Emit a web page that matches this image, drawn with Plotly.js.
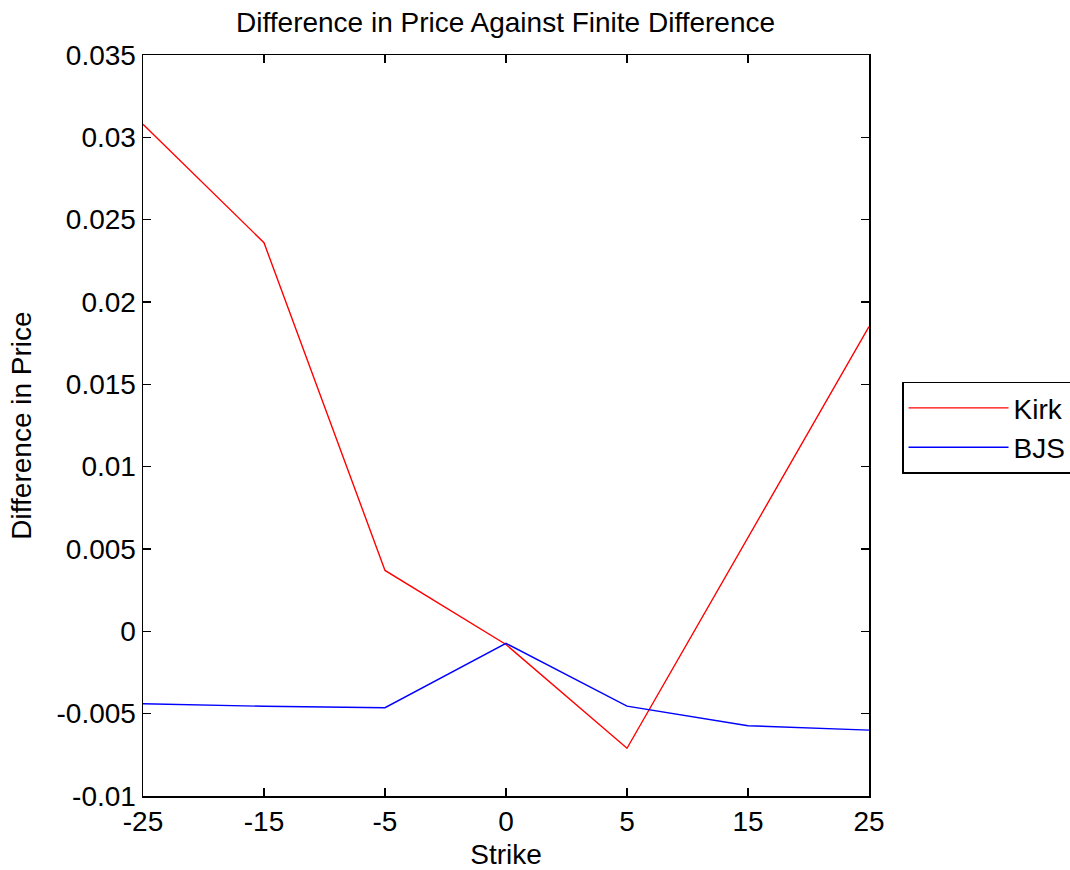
<!DOCTYPE html>
<html>
<head>
<meta charset="utf-8">
<script src="https://cdn.plot.ly/plotly-3.0.1.min.js"></script>
<style>html,body{margin:0;padding:0;background:#fff;}#chart{width:1070px;height:870px;}</style>
</head>
<body>
<div id="chart"></div>
<script>
// Data
const strikes = ['-25', '-15', '-5', '0', '5', '15', '25'];
const kirk = [0.0308, 0.0236, 0.0037, -0.0008, -0.0071, 0.0057, 0.0185];
const bjs = [-0.0044, -0.00455, -0.00464, -0.00073, -0.00454, -0.00573, -0.0060];
const yTickVals = [-0.01, -0.005, 0, 0.005, 0.01, 0.015, 0.02, 0.025, 0.03, 0.035];
const yTickText = ['-0.01', '-0.005', '0', '0.005', '0.01', '0.015', '0.02', '0.025', '0.03', '0.035'];

const FONT = 'Liberation Sans, Arial, Helvetica, sans-serif';
const FS = 28;

const traces = [
  {x: strikes, y: kirk, name: 'Kirk', type: 'scatter', mode: 'lines',
   line: {color: '#ff0000', width: 1.4}},
  {x: strikes, y: bjs, name: 'BJS', type: 'scatter', mode: 'lines',
   line: {color: '#0000ff', width: 1.4}}
];

const axisCommon = {
  showline: true, linecolor: '#000', linewidth: 1.5, mirror: 'ticks',
  ticks: 'inside', ticklen: 8, tickwidth: 1.5, tickcolor: '#000',
  showgrid: false, zeroline: false,
  tickfont: {family: FONT, size: FS, color: '#000'}
};

const layout = {
  width: 1070, height: 870,
  paper_bgcolor: '#fff', plot_bgcolor: '#fff',
  margin: {l: 143, r: 201, t: 55, b: 74, autoexpand: false},
  font: {family: FONT, color: '#000'},
  title: {text: 'Difference in Price Against Finite Difference',
          font: {family: FONT, size: FS, color: '#000'},
          x: 0.4725, xanchor: 'center', y: 0.975, yanchor: 'middle'},
  xaxis: Object.assign({}, axisCommon, {
    type: 'category', categoryorder: 'array', categoryarray: strikes,
    range: [0, 6],
    title: {text: 'Strike', font: {family: FONT, size: FS, color: '#000'}, standoff: 10}
  }),
  yaxis: Object.assign({}, axisCommon, {
    range: [-0.01, 0.035],
    tickmode: 'array', tickvals: yTickVals, ticktext: yTickText,
    title: {text: 'Difference in Price', font: {family: FONT, size: FS, color: '#000'}, standoff: 16}
  }),
  showlegend: true,
  legend: {
    x: 1.0455, xanchor: 'left', y: 0.497, yanchor: 'middle',
    bordercolor: '#000', borderwidth: 1.5, bgcolor: '#fff',
    font: {family: FONT, size: FS, color: '#000'},
    itemwidth: 100, tracegroupgap: 0
  }
};

Plotly.newPlot('chart', traces, layout, {displayModeBar: false, staticPlot: true});
</script>
</body>
</html>
